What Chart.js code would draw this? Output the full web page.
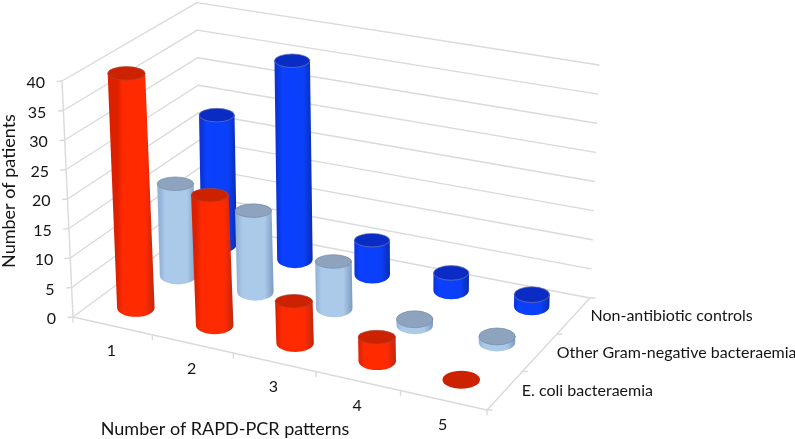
<!DOCTYPE html>
<html>
<head>
<meta charset="utf-8">
<style>
  html, body { margin: 0; padding: 0; background: #fff; }
  canvas { display: block; filter: blur(0.35px); }
</style>
<script src="https://cdn.jsdelivr.net/npm/chart.js@4"></script>
</head>
<body>
<canvas id="chart" width="795" height="439"></canvas>
<script>
// Chart values
const patternCounts = ["1", "2", "3", "4", "5"];
const seriesNames = ["E. coli bacteraemia", "Other Gram-negative bacteraemia", "Non-antibiotic controls"];
const ecoli = [40, 22, 7, 4, 0];
const otherGramNeg = [16, 14, 8, 1, 1];
const controls = [23, 35, 6, 3, 2];
const yTitle = "Number of patients";
const xTitle = "Number of RAPD-PCR patterns";

// Corners of the 3D box in the page (front-left, front-right, back-right, back-left)
const floorCorners = [[73, 317], [487, 410], [590, 298], [200, 223]];
const topCorners = [[62, 81], [488, 166], [599, 65], [197, 2.6]];

const paints = {
  red: { stops: ["#dc2000", "#ff2a00", "#ff2a00", "#c02810"], top: "#cc2200", rim: "rgba(170,70,60,0.7)" },
  light: { stops: ["#93b3d8", "#abcaea", "#abcaea", "#7d9bbf"], top: "#8ea3bd", rim: "rgba(120,140,170,0.7)" },
  blue: { stops: ["#0a34d8", "#0a40ff", "#0a40f8", "#0a2cb0"], top: "#0a2cc4", rim: "rgba(110,120,170,0.7)" },
};

// unit square -> quad, half perspective and half flat looks closest to the tick spacing
const quadMap = (q) => {
  const [[x0, y0], [x1, y1], [x2, y2], [x3, y3]] = q;
  const sx = x0 - x1 + x2 - x3, sy = y0 - y1 + y2 - y3;
  const dx1 = x1 - x2, dx2 = x3 - x2, dy1 = y1 - y2, dy2 = y3 - y2;
  const den = dx1 * dy2 - dx2 * dy1;
  const g = (sx * dy2 - dx2 * sy) / den;
  const h = (dx1 * sy - sx * dy1) / den;
  return (u, v) => {
    const w = g * u + h * v + 1;
    const px = ((x1 - x0 + g * x1) * u + (x3 - x0 + h * x3) * v + x0) / w;
    const py = ((y1 - y0 + g * y1) * u + (y3 - y0 + h * y3) * v + y0) / w;
    const fx = x0 + (x1 - x0) * u + (x3 - x0) * v + sx * u * v;
    const fy = y0 + (y1 - y0) * u + (y3 - y0) * v + sy * u * v;
    return [(px + fx) / 2, (py + fy) / 2];
  };
};
const onFloor = quadMap(floorCorners);
const onTop = quadMap(topCorners);
const project = (u, v, t) => {
  const a = onFloor(u, v), b = onTop(u, v);
  return [a[0] + (b[0] - a[0]) * t, a[1] + (b[1] - a[1]) * t];
};

const line = (ctx, a, b) => {
  ctx.beginPath();
  ctx.moveTo(a[0], a[1]);
  ctx.lineTo(b[0], b[1]);
  ctx.stroke();
};

const cylinder = (ctx, base, top, rx, ryBase, ryTop, paint) => {
  if (top[1] < base[1] - 0.5) {
    const grad = ctx.createLinearGradient(base[0] - rx, 0, base[0] + rx, 0);
    [0, 0.15, 0.75, 1].forEach((s, i) => grad.addColorStop(s, paint.stops[i]));
    ctx.fillStyle = grad;
    ctx.beginPath();
    ctx.moveTo(top[0] - rx, top[1]);
    ctx.lineTo(base[0] - rx, base[1]);
    ctx.ellipse(base[0], base[1], rx, ryBase, 0, Math.PI, 0, true);
    ctx.lineTo(top[0] + rx, top[1]);
    ctx.closePath();
    ctx.fill();
  }
  ctx.fillStyle = paint.top;
  ctx.beginPath();
  ctx.ellipse(top[0], top[1], rx, ryTop, 0, 0, Math.PI * 2);
  ctx.fill();
  if (top[1] < base[1] - 0.5) {
    ctx.strokeStyle = paint.rim;
    ctx.lineWidth = 1;
    ctx.stroke();
  }
};

// Draws the whole box and the cylinders, everything goes through the chart scales
const box3d = {
  id: "box3d",
  beforeDatasetsDraw(chart) {
    const { ctx, scales } = chart;
    const { x, y, z } = scales;
    const uOf = (i) => (x.getPixelForValue(i) - x.left) / x.width;
    const vOf = (i) => (z.getPixelForValue(i) - z.left) / z.width;
    const tOf = (val) => (y.bottom - y.getPixelForValue(val)) / y.height;

    ctx.save();
    ctx.lineCap = "round";

    // walls
    ctx.strokeStyle = "#dadada";
    ctx.lineWidth = 1.4;
    y.ticks.forEach((tick) => {
      const t = tOf(tick.value);
      const front = project(0, 0, t), back = project(0, 1, t), right = project(1, 1, t);
      line(ctx, front, back);
      line(ctx, back, right);
      line(ctx, [front[0] - 5, front[1] + 0.5], front);
    });
    line(ctx, project(0, 0, 0), project(0, 0, 1));

    // floor edges and ticks
    line(ctx, project(0, 0, 0), project(1, 0, 0));
    line(ctx, project(1, 0, 0), project(1, 1, 0));
    for (let i = 0; i <= patternCounts.length; i++) {
      const p = project(i / patternCounts.length, 0, 0);
      line(ctx, p, [p[0], p[1] + 5]);
    }
    for (let i = 0; i <= seriesNames.length; i++) {
      const p = project(1, i / seriesNames.length, 0);
      line(ctx, p, [p[0] + 5, p[1]]);
    }

    // cylinders, back row first
    for (let s = chart.data.datasets.length - 1; s >= 0; s--) {
      const ds = chart.data.datasets[s];
      ds.data.forEach((val, i) => {
        const u = uOf(i), v = vOf(s), t = tOf(val);
        const rx = 19 - 1.5 * v;
        const ry = 6.8 + 2.2 * Math.max(0, 1 - t / 0.1);
        const base = project(u, v, 0), top = project(u, v, t);
        // small nudge so the cylinders sit where they do in the picture
        const dx = 3 * (0.7 - u), dy = -1.5;
        cylinder(ctx, [base[0] + dx, base[1] + dy], [top[0] + dx, top[1] + dy], rx, 9, ry, paints[ds.paint]);
      });
    }

    // text
    ctx.fillStyle = "#141414";
    ctx.font = "16px Lato, sans-serif";
    ctx.textBaseline = "middle";
    ctx.textAlign = "right";
    y.ticks.forEach((tick) => {
      const p = project(0, 0, tOf(tick.value));
      ctx.fillText(tick.label, p[0] - 17, p[1] + 2);
    });
    ctx.textAlign = "center";
    patternCounts.forEach((label, i) => {
      const p = project(uOf(i), 0, 0);
      ctx.fillText(label, p[0] - 1, p[1] + 25);
    });
    ctx.textAlign = "left";
    seriesNames.forEach((label, s) => {
      const p = project(1, vOf(s), 0);
      ctx.fillText(label, p[0] + 17, p[1]);
    });
    ctx.textAlign = "center";
    ctx.font = "18px Lato, sans-serif";
    ctx.fillText(xTitle, 225, 429);
    ctx.translate(9, 191);
    ctx.rotate(-Math.PI / 2);
    ctx.fillText(yTitle, 0, 0);
    ctx.restore();

    return false; // flat bars are replaced by the cylinders
  },
};

new Chart(document.getElementById("chart"), {
  type: "bar",
  data: {
    labels: patternCounts,
    datasets: [
      { label: seriesNames[0], data: ecoli, paint: "red", backgroundColor: "#ff2a00" },
      { label: seriesNames[1], data: otherGramNeg, paint: "light", backgroundColor: "#abcaea" },
      { label: seriesNames[2], data: controls, paint: "blue", backgroundColor: "#0a40ff" },
    ],
  },
  options: {
    responsive: false,
    animation: false,
    layout: { padding: 0 },
    plugins: { legend: { display: false }, tooltip: { enabled: false } },
    scales: {
      x: { display: false },
      z: { type: "category", axis: "x", labels: seriesNames, display: false, offset: true },
      y: { display: false, min: 0, max: 40, ticks: { stepSize: 5 } },
    },
  },
  plugins: [box3d],
});
</script>
</body>
</html>
